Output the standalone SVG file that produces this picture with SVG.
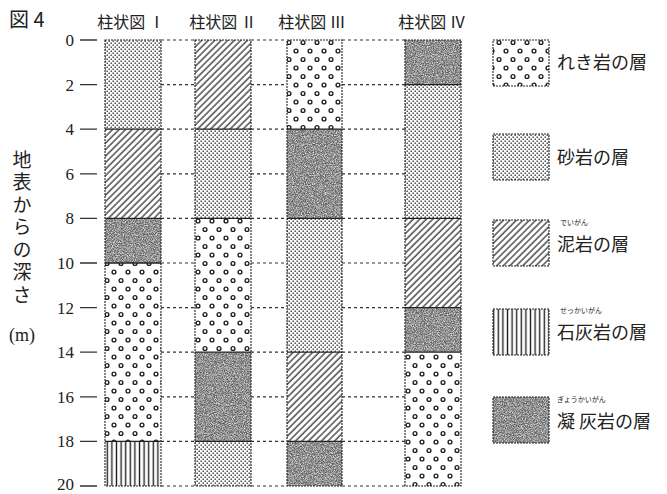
<svg xmlns="http://www.w3.org/2000/svg" width="667" height="494" viewBox="0 0 667 494">
<style>
.jp{font-family:"Noto Sans CJK JP","Noto Sans",sans-serif;fill:#222}
.num{font-family:"Liberation Serif","DejaVu Serif",serif;fill:#222;font-size:17px;text-anchor:end}
.tick{stroke:#333;stroke-width:1.3}
.dash{stroke:#333;stroke-width:1.2;stroke-dasharray:3 3}
.edge{fill:none;stroke:#222;stroke-width:1.1;stroke-dasharray:2 1}
.sep{stroke:#222;stroke-width:1.3}
.gravel{fill:url(#pGravel)}
.sand{fill:url(#pSand)}
.mud{fill:url(#pMud)}
.lime{fill:url(#pLime)}
.tuff{fill:#555;filter:url(#fTuff)}
</style>
<defs>
<pattern id="pGravel" width="14" height="17" patternUnits="userSpaceOnUse" x="103" y="38">
<rect width="14" height="17" fill="#fff"/>
<circle cx="4" cy="4.5" r="1.9" fill="#fff" stroke="#222" stroke-width="1.4"/>
<circle cx="11" cy="13" r="1.9" fill="#fff" stroke="#222" stroke-width="1.4"/>
</pattern>
<pattern id="pSand" width="4" height="4" patternUnits="userSpaceOnUse">
<rect width="4" height="4" fill="#fff"/>
<rect x="0.5" y="0.5" width="1.4" height="1.4" fill="#333"/>
<rect x="2.5" y="2.5" width="1.4" height="1.4" fill="#333"/>
</pattern>
<pattern id="pMud" width="4.6" height="6" patternUnits="userSpaceOnUse" patternTransform="rotate(45)">
<rect width="4.6" height="6" fill="#fff"/>
<line x1="1" y1="0" x2="1" y2="6" stroke="#222" stroke-width="1.2"/>
</pattern>
<pattern id="pLime" width="4.6" height="10" patternUnits="userSpaceOnUse" x="105">
<rect width="4.6" height="10" fill="#fff"/>
<line x1="2.3" y1="0" x2="2.3" y2="10" stroke="#222" stroke-width="1.4"/>
</pattern>
<filter id="fTuff" x="0" y="0" width="100%" height="100%">
<feTurbulence type="fractalNoise" baseFrequency="0.9" numOctaves="2" seed="7" result="n"/>
<feColorMatrix in="n" type="matrix" values="1 0 0 0 0  1 0 0 0 0  1 0 0 0 0  0 0 0 0 1" result="g"/>
<feComponentTransfer in="g" result="s">
<feFuncR type="discrete" tableValues="0.08 0.12 0.2 0.38 0.62 0.8"/>
<feFuncG type="discrete" tableValues="0.08 0.12 0.2 0.38 0.62 0.8"/>
<feFuncB type="discrete" tableValues="0.08 0.12 0.2 0.38 0.62 0.8"/>
</feComponentTransfer>
<feComposite in="s" in2="SourceGraphic" operator="in"/>
</filter>
</defs>
<rect width="667" height="494" fill="#fff"/>

<g id="title">
<text class="jp" x="9" y="27" font-size="20">図 4</text>
</g>
<g id="headers" class="jp" font-size="16" text-anchor="middle">
<text x="131" y="28">柱状図 Ⅰ</text>
<text x="223" y="28">柱状図 Ⅱ</text>
<text x="312" y="28">柱状図 Ⅲ</text>
<text x="432" y="28">柱状図 Ⅳ</text>
</g>

<g id="axis-label" class="jp" font-size="19">
<text x="22" y="150" style="writing-mode:vertical-rl" letter-spacing="3.5">地表からの深さ</text>
<text x="22" y="341" text-anchor="middle" font-family="Liberation Serif,serif" font-size="18">(m)</text>
</g>

<g id="ticks">
<text class="num" x="74" y="46">0</text>
<text class="num" x="74" y="90.6">2</text>
<text class="num" x="74" y="135.2">4</text>
<text class="num" x="74" y="179.8">6</text>
<text class="num" x="74" y="224.4">8</text>
<text class="num" x="74" y="269">10</text>
<text class="num" x="74" y="313.6">12</text>
<text class="num" x="74" y="358.2">14</text>
<text class="num" x="74" y="402.8">16</text>
<text class="num" x="74" y="447.4">18</text>
<text class="num" x="74" y="490" font-size="16">20</text>
<path class="tick" d="M80 40H97M80 84.6H97M80 129.2H97M80 173.8H97M80 218.4H97M80 263H97M80 307.6H97M80 352.2H97M80 396.8H97M80 441.4H97M80 486H97"/>
</g>

<g id="connectors">
<path class="dash" d="M161 40H195M251 40H287M342 40H405
M161 84.6H195M251 84.6H287M342 84.6H405
M161 129.2H195M251 129.2H287M342 129.2H405
M161 173.8H195M251 173.8H287M342 173.8H405
M161 218.4H195M251 218.4H287M342 218.4H405
M161 263H195M251 263H287M342 263H405
M161 307.6H195M251 307.6H287M342 307.6H405
M161 352.2H195M251 352.2H287M342 352.2H405
M161 396.8H195M251 396.8H287M342 396.8H405
M161 441.4H195M251 441.4H287M342 441.4H405
M161 486H195M251 486H287M342 486H405"/>
</g>

<g id="column-1">
<rect class="sand" x="105" y="40" width="56" height="89.2"/>
<rect class="mud" x="105" y="129.2" width="56" height="89.2"/>
<rect class="tuff" x="105" y="218.4" width="56" height="44.6"/>
<rect class="gravel" x="105" y="263" width="56" height="178.4"/>
<rect class="lime" x="105" y="441.4" width="56" height="44.6"/>
<path class="sep" d="M105 129.2H161M105 218.4H161M105 263H161M105 441.4H161"/>
<rect class="edge" x="105" y="40" width="56" height="446"/>
</g>

<g id="column-2">
<rect class="mud" x="195" y="40" width="56" height="89.2"/>
<rect class="sand" x="195" y="129.2" width="56" height="89.2"/>
<rect class="gravel" x="195" y="218.4" width="56" height="133.8"/>
<rect class="tuff" x="195" y="352.2" width="56" height="89.2"/>
<rect class="sand" x="195" y="441.4" width="56" height="44.6"/>
<path class="sep" d="M195 129.2H251M195 218.4H251M195 352.2H251M195 441.4H251"/>
<rect class="edge" x="195" y="40" width="56" height="446"/>
</g>

<g id="column-3">
<rect class="gravel" x="287" y="40" width="55" height="89.2"/>
<rect class="tuff" x="287" y="129.2" width="55" height="89.2"/>
<rect class="sand" x="287" y="218.4" width="55" height="133.8"/>
<rect class="mud" x="287" y="352.2" width="55" height="89.2"/>
<rect class="tuff" x="287" y="441.4" width="55" height="44.6"/>
<path class="sep" d="M287 129.2H342M287 218.4H342M287 352.2H342M287 441.4H342"/>
<rect class="edge" x="287" y="40" width="55" height="446"/>
</g>

<g id="column-4">
<rect class="tuff" x="405" y="40" width="56" height="44.6"/>
<rect class="sand" x="405" y="84.6" width="56" height="133.8"/>
<rect class="mud" x="405" y="218.4" width="56" height="89.2"/>
<rect class="tuff" x="405" y="307.6" width="56" height="44.6"/>
<rect class="gravel" x="405" y="352.2" width="56" height="133.8"/>
<path class="sep" d="M405 84.6H461M405 218.4H461M405 307.6H461M405 352.2H461"/>
<rect class="edge" x="405" y="40" width="56" height="446"/>
</g>

<g id="legend-gravel">
<rect class="gravel" x="493" y="40" width="56" height="46"/>
<rect class="edge" x="493" y="40" width="56" height="46"/>
<text class="jp" x="557" y="69" font-size="18">れき岩の層</text>
</g>
<g id="legend-sand">
<rect class="sand" x="493" y="134" width="56" height="46"/>
<rect class="edge" x="493" y="134" width="56" height="46"/>
<text class="jp" x="557" y="164" font-size="18">砂岩の層</text>
</g>
<g id="legend-mud">
<rect class="mud" x="493" y="220" width="56" height="46"/>
<rect class="edge" x="493" y="220" width="56" height="46"/>
<text class="jp" x="560" y="225" font-size="7">でいがん</text>
<text class="jp" x="557" y="251" font-size="18">泥岩の層</text>
</g>
<g id="legend-limestone">
<rect class="lime" x="493" y="309" width="56" height="46"/>
<rect class="edge" x="493" y="309" width="56" height="46"/>
<text class="jp" x="560" y="313" font-size="7">せっかいがん</text>
<text class="jp" x="557" y="339" font-size="18">石灰岩の層</text>
</g>
<g id="legend-tuff">
<rect class="tuff" x="493" y="397" width="56" height="46"/>
<rect class="edge" x="493" y="397" width="56" height="46"/>
<text class="jp" x="557" y="402" font-size="7">ぎょうかいがん</text>
<text class="jp" x="557" y="428" font-size="18">凝 灰岩の層</text>
</g>
</svg>
